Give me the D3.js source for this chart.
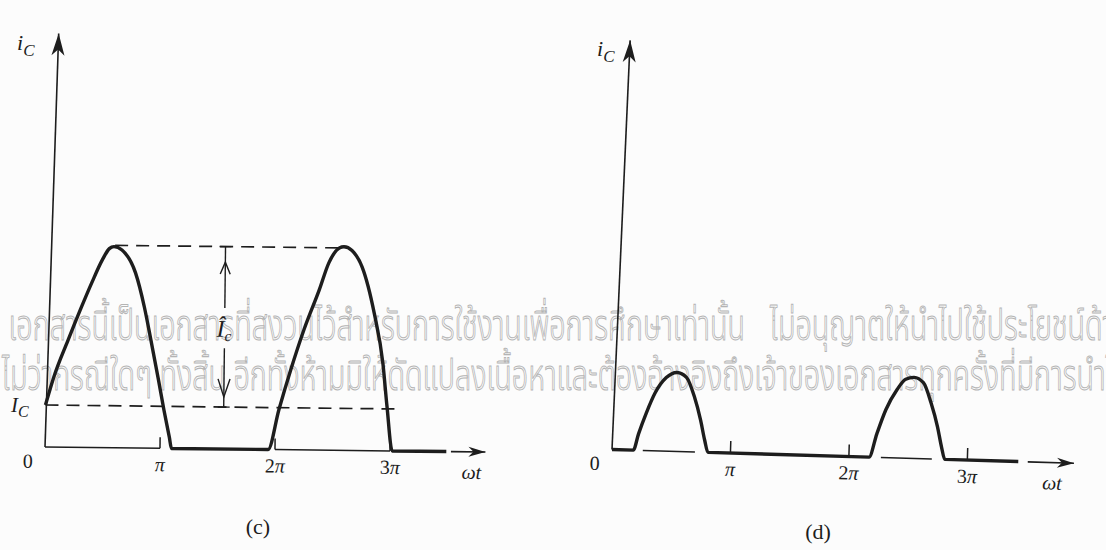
<!DOCTYPE html>
<html>
<head>
<meta charset="utf-8">
<script src="https://cdn.jsdelivr.net/npm/d3@7"></script>
<style>
  html, body { margin: 0; padding: 0; background: #fcfcfc; }
  svg { display: block; }
  text { font-family: "Liberation Serif", "DejaVu Serif", serif; fill: #1d1d1d; }
  .wm { font-family: "Noto Sans Thai", "Noto Sans Thai UI", "Loma", "Garuda", "Noto Sans", sans-serif; font-weight: 300;
        fill: none; stroke: #b4b4b4; stroke-width: 0.9; vector-effect: non-scaling-stroke; }
</style>
</head>
<body>
<div id="fig"></div>
<script>
const W = 1106, H = 550;
const ink = '#1d1d1d';

// ωt in multiples of π, i_C in arbitrary units (I_C = 1)
const tickValues = [1, 2, 3];
const tickLabels = ['π', '2π', '3π'];

// (c) dc bias plus a full sinusoid, clipped at zero
const cAngle   = [0, 0.07, 0.19, 0.30, 0.39, 0.48, 0.54, 0.58, 0.65, 0.77, 0.85, 0.91, 0.98, 1.03, 1.08, 1.10,
                  1.94, 2.03, 2.13, 2.24, 2.37, 2.45, 2.54, 2.58, 2.65, 2.74, 2.85, 2.93, 2.97, 3.02, 3.49];
const cCurrent = [1.00, 1.67, 2.55, 3.32, 3.92, 4.47, 4.74, 4.79, 4.71, 4.17, 3.36, 2.58, 1.63, 0.92, 0.27, 0,
                  0, 0.95, 1.91, 2.86, 3.82, 4.46, 4.82, 4.85, 4.76, 4.37, 3.27, 2.08, 1.05, 0, 0];
const cDcLevel = 1.0;
const cPeakLevel = 4.82;
const cAxisSpans = [[0, 1], [2, 3]];

// (d) short current pulses
const dAngle   = [0, 0.18, 0.22, 0.28, 0.35, 0.44, 0.53, 0.61, 0.68, 0.74, 0.78, 0.81,
                  2.17, 2.23, 2.30, 2.39, 2.46, 2.53, 2.61, 2.68, 2.74, 2.78, 2.81, 3.43];
const dCurrent = [0, 0, 0.39, 0.89, 1.38, 1.75, 1.88, 1.77, 1.33, 0.76, 0.28, 0,
                  0, 0.56, 1.14, 1.63, 1.88, 1.93, 1.81, 1.33, 0.77, 0.28, 0, 0];
const dAxisSpans = [[0.26, 0.70], [2.27, 2.70]];

// scanned watermark text
const wmLine1a = 'เอกสารนี้เป็นเอกสารที่สงวนไว้สำหรับการใช้งานเพื่อการศึกษาเท่านั้น';
const wmLine1b = 'ไม่อนุญาตให้นำไปใช้ประโยชน์ด้านการค้า';
const wmLine2  = 'ไม่ว่ากรณีใดๆ ทั้งสิ้น อีกทั้งห้ามมิให้ดัดแปลงเนื้อหาและต้องอ้างอิงถึงเจ้าของเอกสารทุกครั้งที่มีการนำ';
const wmLine2b = 'ไปใช้';

const svg = d3.select('#fig').append('svg')
  .attr('width', W)
  .attr('height', H);

svg.append('rect').attr('width', W).attr('height', H).attr('fill', '#fcfcfc');

// Arrow heads
const defs = svg.append('defs');
defs.append('marker')
  .attr('id', 'yHead')
  .attr('markerUnits', 'userSpaceOnUse')
  .attr('markerWidth', 30).attr('markerHeight', 30)
  .attr('orient', 'auto').attr('overflow', 'visible')
  .append('path')
  .attr('d', 'M0,0 L-22,-6.5 L-16,0 L-22,6.5 Z')
  .attr('fill', ink);
defs.append('marker')
  .attr('id', 'xHead')
  .attr('markerUnits', 'userSpaceOnUse')
  .attr('markerWidth', 30).attr('markerHeight', 30)
  .attr('orient', 'auto').attr('overflow', 'visible')
  .append('path')
  .attr('d', 'M0,0 L-17,-5 L-12,0 L-17,5 Z')
  .attr('fill', ink);

// Watermark, fitted so line 2 runs across the page, stretched tall like the scan
const wm = svg.append('g');
const probe = wm.append('text').attr('class', 'wm').attr('font-size', 40).text(wmLine2);
const fs = 40 * (W - 2) / probe.node().getComputedTextLength();
probe.remove();
const stretch = Math.max(1, 22 / (0.52 * fs));
function wmText(x, y, anchor, str) {
  wm.append('g')
    .attr('transform', `translate(${x},${y}) scale(1,${stretch})`)
    .append('text').attr('class', 'wm').attr('font-size', fs)
    .attr('text-anchor', anchor).text(str);
}
wmText(745, 340, 'end', wmLine1a);
wmText(770, 340, 'start', wmLine1b);
wmText(2, 390, 'start', wmLine2 + wmLine2b);

function piLabel(sel, label) {
  const pre = label.replace('π', '');
  if (pre) sel.append('tspan').text(pre);
  sel.append('tspan').attr('font-style', 'italic').text('π');
}

function drawPanel(p) {
  const x = d3.scaleLinear().domain([0, 4]).range([0, 4 * p.perPi]);
  const y = d3.scaleLinear().domain([0, 10]).range([0, -420]);
  const g = svg.append('g')
    .attr('transform', `translate(${p.ox},${p.oy}) rotate(${p.rot})`);

  // vertical axis
  g.append('line')
    .attr('x1', x(0)).attr('y1', y(0))
    .attr('x2', x(0) + p.lean).attr('y2', y(p.axisTop))
    .attr('stroke', ink).attr('stroke-width', 1.6)
    .attr('marker-end', 'url(#yHead)');

  // thin baseline pieces
  g.selectAll('line.span')
    .data(p.spans)
    .join('line')
    .attr('class', 'span')
    .attr('x1', d => x(d[0])).attr('x2', d => x(d[1]))
    .attr('y1', y(0)).attr('y2', y(0))
    .attr('stroke', ink).attr('stroke-width', 1.5);

  // ticks
  g.selectAll('line.tick')
    .data(tickValues)
    .join('line')
    .attr('class', 'tick')
    .attr('x1', d => x(d)).attr('x2', d => x(d))
    .attr('y1', y(0)).attr('y2', y(0) - p.tickLen)
    .attr('stroke', ink).attr('stroke-width', 1.5);

  g.selectAll('text.tl')
    .data(tickValues)
    .join('text')
    .attr('class', 'tl')
    .attr('x', d => x(d)).attr('y', y(0) + 23)
    .attr('text-anchor', 'middle')
    .attr('font-size', 20)
    .each(function (d, i) { piLabel(d3.select(this), tickLabels[i]); });

  g.append('text')
    .attr('x', x(0) - 17).attr('y', y(0) + 21)
    .attr('text-anchor', 'middle').attr('font-size', 20)
    .text('0');

  // waveform
  const pts = p.angle.map((a, i) => [a, p.current[i]]);
  g.append('path')
    .datum(pts)
    .attr('d', d3.line().x(d => x(d[0])).y(d => y(d[1])).curve(d3.curveMonotoneX))
    .attr('fill', 'none')
    .attr('stroke', ink)
    .attr('stroke-width', 3.4)
    .attr('stroke-linejoin', 'round');

  // ωt arrow
  g.append('line')
    .attr('x1', x(p.arrow[0])).attr('x2', x(p.arrow[1]))
    .attr('y1', y(0)).attr('y2', y(0))
    .attr('stroke', ink).attr('stroke-width', 1.6)
    .attr('marker-end', 'url(#xHead)');
  g.append('text')
    .attr('x', x(p.wtAt)).attr('y', y(0) + 27)
    .attr('text-anchor', 'middle').attr('font-size', 20)
    .attr('font-style', 'italic')
    .text('ωt');

  return { g, x, y };
}

// Panel (c)
const c = drawPanel({
  ox: 45, oy: 447, rot: 0.65, perPi: 115, lean: 9, axisTop: 9.85, tickLen: 11,
  angle: cAngle, current: cCurrent, spans: cAxisSpans, arrow: [3.53, 3.83], wtAt: 3.71
});

// dashed levels
const dash = [[cPeakLevel, 0.59, 2.58], [cDcLevel, 0, 3.07]];
c.g.selectAll('line.level')
  .data(dash)
  .join('line')
  .attr('class', 'level')
  .attr('x1', d => c.x(d[1])).attr('x2', d => c.x(d[2]))
  .attr('y1', d => c.y(d[0])).attr('y2', d => c.y(d[0]))
  .attr('stroke', ink).attr('stroke-width', 1.7)
  .attr('stroke-dasharray', '13,8');

// Î_c dimension
const dimX = c.x(1.55);
const dimG = c.g.append('g').attr('stroke', ink).attr('stroke-width', 1.4).attr('fill', 'none');
dimG.append('line').attr('x1', dimX - 6).attr('x2', dimX + 6).attr('y1', c.y(cPeakLevel)).attr('y2', c.y(cPeakLevel));
dimG.append('line').attr('x1', dimX - 6).attr('x2', dimX + 6).attr('y1', c.y(cDcLevel)).attr('y2', c.y(cDcLevel));
dimG.append('line').attr('x1', dimX).attr('x2', dimX).attr('y1', c.y(cPeakLevel)).attr('y2', c.y(3.36));
dimG.append('line').attr('x1', dimX).attr('x2', dimX).attr('y1', c.y(2.4)).attr('y2', c.y(cDcLevel));
const upTip = c.y(4.45), downTip = c.y(1.24);
dimG.append('path').attr('d', `M${dimX - 5},${upTip + 12} L${dimX},${upTip} L${dimX + 5},${upTip + 12}`);
dimG.append('path').attr('d', `M${dimX - 6},${downTip - 18} L${dimX},${downTip} L${dimX + 6},${downTip - 18}`);
const ihat = c.g.append('text')
  .attr('x', dimX - 8).attr('y', c.y(2.67))
  .attr('font-size', 24).attr('font-style', 'italic');
ihat.append('tspan').text('Î');
ihat.append('tspan').attr('font-size', 15).attr('dy', 4).text('c');

// I_C label
const icl = svg.append('text').attr('x', 11).attr('y', 412).attr('font-size', 21).attr('font-style', 'italic');
icl.append('tspan').text('I');
icl.append('tspan').attr('font-size', 16).attr('dy', 5).text('C');

// Panel (d)
const d = drawPanel({
  ox: 612, oy: 449.5, rot: 1.7, perPi: 118.5, lean: 6, axisTop: 9.75, tickLen: 12,
  angle: dAngle, current: dCurrent, spans: dAxisSpans, arrow: [3.51, 3.90], wtAt: 3.72
});

// axis titles
[[17, 50], [597, 56]].forEach(([tx, ty]) => {
  const t = svg.append('text').attr('x', tx).attr('y', ty).attr('font-size', 22).attr('font-style', 'italic');
  t.append('tspan').text('i');
  t.append('tspan').attr('font-size', 17).attr('dy', 6).text('C');
});

// panel captions
svg.append('text').attr('x', 258).attr('y', 534).attr('text-anchor', 'middle').attr('font-size', 22).text('(c)');
svg.append('text').attr('x', 818).attr('y', 539).attr('text-anchor', 'middle').attr('font-size', 22).text('(d)');
</script>
</body>
</html>
